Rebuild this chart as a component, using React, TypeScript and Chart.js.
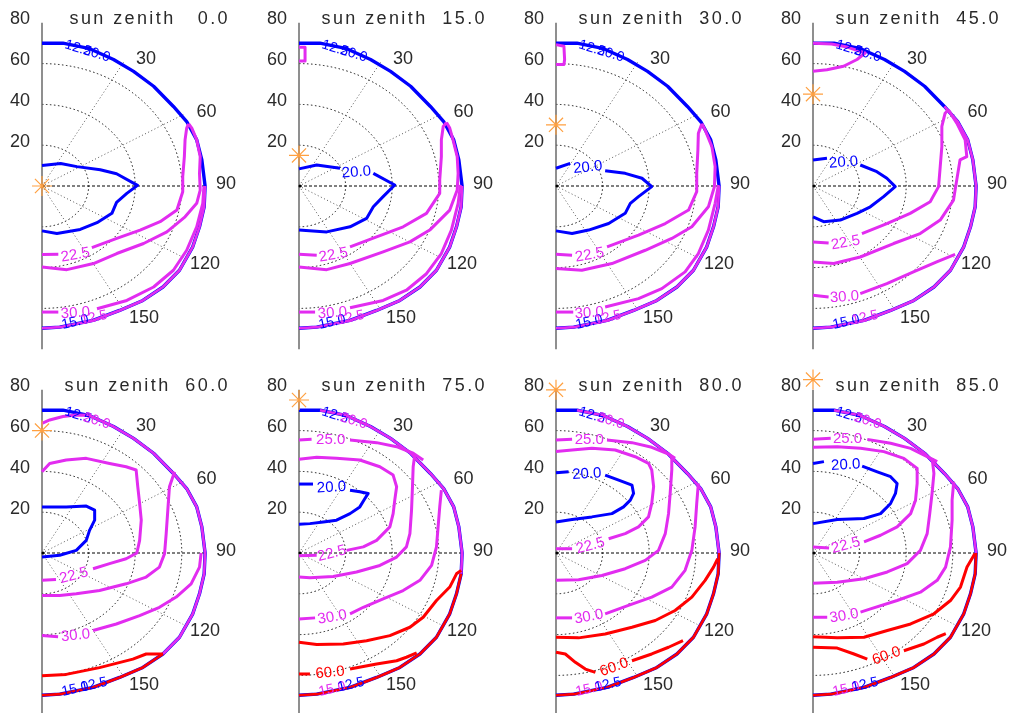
import React, { useEffect, useRef } from "react";
import { Chart, registerables } from "chart.js";

Chart.register(...registerables);

type Pt = number[] | null;

// ---------- axes / grid values ----------
const SUN_ZENITHS = [0, 15, 30, 45, 60, 75, 80, 85];
const Y_TICKS = [80, 60, 40, 20];
const AZ_TICKS = [30, 60, 90, 120, 150];
const GRID_RADII = [20, 40, 60];
const RADIAL_AZ = [30, 60, 120, 150];
const GRID_OUTER = 70;
const AZ_LABEL_RADIUS = 79;

// ---------- outer boundary (view zenith ~70), [x, y] in zenith units ----------
const EDGE: number[][] = [
  [0, 70], [9, 70], [20, 67.5], [30.7, 62], [39.3, 56.2], [47.9, 48.9], [56.4, 39],
  [62.1, 31.6], [66.4, 22.6], [68.6, 12.8], [70, 0], [69.6, -10.2], [67.6, -20],
  [64.7, -29.8], [59, -41.3], [51.9, -49.5], [43.3, -56.1], [33.3, -61], [21.9, -65.9],
  [7.6, -69.2], [0, -69.7],
];

// ---------- sun zenith 0 ----------
const SZ0_20: Pt[] = [[0, 10], [8, 11], [15, 9.5], [25, 8], [32, 6], [41, 0.3], [36.4, -3.6], [32, -8], [30, -13.4], [23.6, -18], [16.4, -21.3], [6.4, -23.3], [0, -22]];
const SZ0_225: Pt[] = [[0, -33.6], [7, -33.5], null, [21.4, -30.2], [32.1, -25.7], [42.1, -21.6], [50.7, -17.5], [57.9, -11.8], [60.4, -2.8], [60.4, 4.6], [61.1, 14.4], [61.4, 22.6], [62.1, 28.4], [62.9, 30.5]];
const SZ0_25: Pt[] = [[0, -39.7], [10.7, -41], [22.1, -38], [32.1, -33.1], [43.6, -28.2], [53.6, -22.5], [61.4, -15.1], [66.4, -8.5], [67.9, -2], [67.6, 6.2], [67.9, 14.4], [66.4, 22.6], [64.3, 28.4], [62.9, 30.5]];
const SZ0_30: Pt[] = [[0, -61.8], [7, -61.8], null, [23.6, -60.2], [36.4, -56.1], [47.9, -49.5], [56.4, -41.3], [62.1, -31.5], [66.4, -20], [69, -8.5], [69.5, 0]];

// ---------- sun zenith 15 ----------
const SZ15_TOP: Pt[] = [[0, 68], [2.6, 68], [2.6, 61.3], [0, 61.3]];
const SZ15_20: Pt[] = [[0, 8.4], [7.6, 10.3], [17.6, 8.7], null, [31.9, 6.2], [41.1, 0.5], [36.1, -5.2], [31.9, -10.2], [29, -15.9], [21.9, -20], [11.9, -22.5], [0, -21.6]];
const SZ15_225: Pt[] = [[0, -33.4], [7.6, -33.9], null, [21.9, -29.8], [33.3, -24.9], [44.7, -20], [54.7, -13.4], [60.4, -3.6], [60.4, 3], [61.1, 14.4], [61.1, 22.6], [61.9, 29.2], [63.3, 31.1]];
const SZ15_25: Pt[] = [[0, -39.7], [11.9, -41], [21.9, -38], [36.1, -32.3], [47.6, -27.4], [56.1, -21.6], [64.7, -11.8], [67.9, -2], [68.3, 6.2], [67.9, 14.4], [66.1, 22.6], [64.7, 28.4], [63.3, 31.1]];
const SZ15_30: Pt[] = [[0, -61.8], [6.9, -61.8], null, [21.9, -59.7], [36.1, -56.1], [46.1, -51.1], [54.7, -43], [61.1, -33.1], [65.4, -21.6], [68.3, -8.5], [69.3, 0.5]];

// ---------- sun zenith 30 ----------
const SZ30_TOP: Pt[] = [[0, 69.3], [3.4, 68.5], [3.7, 62], [3.4, 59.5], [0, 59.5]];
const SZ30_20: Pt[] = [[0, 8.7], [6.1, 11.1], null, [21.1, 7.5], [29.7, 6.2], [36.9, 3.8], [41.1, -0.3], [35.4, -5.2], [31.9, -8.5], [29.7, -13.4], [22.6, -18.4], [14, -21.6], [6.9, -23.3], [0, -22]];
const SZ30_225: Pt[] = [[0, -33.4], [6.9, -33.9], null, [21.9, -29.8], [35.4, -24.1], [46.9, -18.4], [56.9, -11.8], [60.4, -2.8], [60.4, 6.2], [60.9, 17.7], [61.1, 25.9], [62.6, 30.5]];
const SZ30_25: Pt[] = [[0, -40.5], [11.1, -41.3], [24, -38], [38.3, -31.5], [49.7, -25.7], [58.3, -20], [65.4, -10.2], [68, -0.3], [68.3, 9.5], [66.9, 19.3], [64, 27.5], [62.6, 30.5]];
const SZ30_30: Pt[] = [[0, -61.8], [7.4, -61.8], null, [21.1, -59.3], [35.4, -55.2], [45.4, -50.3], [55.4, -42.1], [61.1, -33.1], [65.4, -21.6], [68.3, -8.5], [69.7, 0.5]];

// ---------- sun zenith 45 ----------
const SZ45_TOP: Pt[] = [[0, 70], [8, 69.6], [14, 68.3], [22.4, 65.2], [18.9, 62], [13.1, 58.7], [6, 57], [0, 56.2]];
const SZ45_20: Pt[] = [[0, 12.8], [6, 13.6], null, [20.3, 10.3], [27.4, 7], [31.7, 3.8], [35.3, -0.3], [30.3, -5.2], [24.6, -10.2], [18.9, -13.4], [11.7, -16.7], [4.6, -17.5], [0, -15.1]];
const SZ45_225: Pt[] = [[0, -27.4], [6.7, -27.9], null, [21, -23.3], [31.7, -18.4], [41.7, -13.4], [50.3, -7.7], [53.9, -0.3], [54.6, 9.5], [55.3, 19.3], [55.3, 29.2], [56.7, 35.7], [58.1, 37.4]];
const SZ45_25: Pt[] = [[0, -37.2], [8.9, -38], [20.3, -34.8], [34.6, -28.2], [46, -23.3], [54.6, -16.7], [60.3, -6.9], [61.7, 3], [63.1, 12.8], [66, 14.4], [65.3, 22.6], [61.7, 30.8], [58.1, 37.4]];
const SZ45_30: Pt[] = [[0, -53.6], [6.7, -54.4], null, [20.3, -52.8], [31.7, -47.9], [43.1, -42.1], [53.1, -37.2], [61, -33.5]];

// ---------- sun zenith 60 ----------
const SZ60_TOP: Pt[] = [[0, 63.6], [3.3, 65.2], [9, 66.9], [14.7, 67.7], [20, 67.5]];
const SZ60_20: Pt[] = [[0, 22.6], [10.4, 22.6], [19, 23], [22.6, 21], [22.6, 16.1], [20.4, 11.1], [19, 6.2], [14.7, 1.3], [7.6, -1.1], [0, -2]];
const SZ60_225: Pt[] = [[0, 39.8], [3.3, 43.9], [10.4, 45.6], [19, 46.4], [29, 43.9], [36.1, 42.3], [40.4, 40.7], [41.1, 32.5], [41.9, 24.3], [42.6, 16.1], [41.9, 6.2], [40.7, 0], [36.1, -2.8], [29, -5.2], [21.9, -7.7], null, [6, -13], [0, -13.4]];
const SZ60_25: Pt[] = [[56.9, 39.8], [54.7, 32.5], [54, 21], [53.3, 9.5], [52.6, -0.3], [50.4, -6.9], [44.7, -11.8], [36.1, -15.1], [24.7, -18.4], [14.7, -20], [7.6, -20.8], [0, -20.8]];
const SZ60_30: Pt[] = [[0, -40.5], [6.9, -41], null, [21.9, -38], [31.9, -34.8], [41.9, -30.7], [50.4, -26.6], [57.6, -21.6], [64, -15.1], [67.6, -6.9], [68.3, 0]];
const SZ60_60: Pt[] = [[0, -60.2], [10.4, -59.5], [24.7, -56.2], [39, -52], [44.7, -49.5], [51.9, -49.5]];

// ---------- sun zenith 75 ----------
const SZ75_20: Pt[] = [[0, 33.8], [6, 33.8], null, [21.9, 30.8], [26.1, 30], [29.7, 29.2], [28.3, 26.7], [26.1, 22.6], [21.9, 19.3], [16.1, 16.1], [10.4, 15.2], [4.7, 14.4], [0, 14.1]];
const SZ75_225: Pt[] = [[0, 45.9], [7.6, 46.9], [16.1, 46.4], [26.1, 45.6], [34.7, 42.3], [40.4, 38.2], [41.9, 32.5], [41.1, 25.9], [40.4, 19.3], [39, 12.8], [33.3, 6.2], [27.6, 3], [20.4, 1.3], null, [7.6, -1.1], [0, -1.3]];
const SZ75_25: Pt[] = [[0, 55.4], [5.4, 55.7], null, [21.9, 55.4], [33.3, 54.1], [41.9, 52.1], [49, 48.9], [53.3, 45.6]];
const SZ75_25B: Pt[] = [[49.7, 48], [49, 42.3], [48.7, 32.5], [48.3, 21], [47.6, 9.5], [46.1, 3], [41.9, -2], [34.7, -6.1], [24.7, -9.3], [14.7, -11.5], [4.7, -12.1], [0, -11.8]];
const SZ75_30: Pt[] = [[61.1, 30.8], [60.4, 22.6], [59.7, 12.8], [59, 3], [56.9, -6.1], [51.9, -13.4], [44.7, -18.4], [36.1, -22.5], [27.6, -26.6], [21.9, -29.8], null, [6.9, -31.8], [0, -32.3]];
const SZ75_60A: Pt[] = [[0, -43.8], [7.6, -44.9], [19, -44.6], [29, -43], [39, -40.5], [47.6, -36.4], [53.3, -31.5], [59, -23.3], [64.7, -16.7], [67.6, -10.2], [69.6, -8.5]];
const SZ75_60B: Pt[] = [[0, -59.3], [4.7, -59.3], null, [21.9, -56.9], [33.3, -54.4], [41.9, -52.8], [46.1, -51.1], [50.5, -49]];

// ---------- sun zenith 80 ----------
const SZ80_20: Pt[] = [[0, 39.3], [5.4, 39.8], null, [21.1, 38.2], [26.9, 35.7], [32.6, 33.3], [33.3, 29.2], [31.9, 25.9], [29, 22.6], [24, 19.3], [15.4, 17.7], [6.9, 16.4], [0, 15.2]];
const SZ80_225: Pt[] = [[0, 49.7], [6.9, 50.5], [15.4, 51.3], [25.4, 50.5], [34, 47.2], [39.7, 43.9], [41.1, 40.7], [41.9, 32.5], [41.1, 24.3], [39.7, 17.7], [35.4, 12.8], [29.7, 9.5], [22.6, 7], null, [6.9, 2.1], [0, 2.1]];
const SZ80_25: Pt[] = [[0, 55.4], [6.9, 55.7], null, [21.9, 55.4], [32.6, 54.1], [41.1, 51.8], [48.3, 48.5], [51.1, 46.4]];
const SZ80_25B: Pt[] = [[49.7, 47], [49.7, 40.7], [49, 29.2], [48.3, 19.3], [46.9, 9.5], [44, 1.3], [38.3, -3.6], [29.7, -7.7], [19.7, -11], [9.7, -13.1], [0, -13.4]];
const SZ80_30: Pt[] = [[61.1, 34.1], [60.4, 24.3], [59.7, 12.8], [58.3, 1.3], [55.4, -8.5], [49.7, -16.7], [41.1, -21.6], [31.1, -25.7], [21.1, -29.8], null, [6.9, -31.8], [0, -31.8]];
const SZ80_60A: Pt[] = [[0, -41.3], [9.7, -41.6], [21.1, -39.7], [32.6, -36.4], [42.6, -33.1], [51.1, -28.2], [58.3, -21.6], [64, -13.4], [67.6, -6.9], [69.4, -2.8]];
const SZ80_60B: Pt[] = [[0, -48.7], [4, -49.5], [8.3, -53.6], [12.6, -56.9], [16.9, -58.5], null, [32.6, -52.8], [41.1, -49.5], [48.3, -46.2], [54.5, -43]];

// ---------- sun zenith 85 ----------
const SZ85_20: Pt[] = [[0, 43.9], [4.7, 44.8], null, [21.1, 42.6], [27.6, 39.8], [33.3, 37.4], [36.1, 34.1], [35.4, 29.2], [33.3, 24.3], [29, 19.3], [21.9, 16.9], [10.4, 16.4], [0, 14.4]];
const SZ85_225: Pt[] = [[0, 51.8], [10.4, 52.1], [20.4, 51.3], [30.4, 49.7], [39, 46.4], [44.7, 41.5], [44.7, 34.1], [44, 25.9], [41.9, 19.3], [36.1, 12.8], [29, 8.7], [21.9, 5.4], null, [6.9, 2.5], [0, 3]];
const SZ85_25: Pt[] = [[0, 55.7], [7.6, 56.2], null, [23.3, 55.7], [33.3, 53.8], [41.9, 51.3], [49, 47.2], [53.3, 44.8]];
const SZ85_25B: Pt[] = [[51.1, 46.5], [51.9, 39], [51.1, 29.2], [50.1, 19.3], [49, 9.5], [46.1, 1.3], [40.4, -5.2], [31.9, -9.3], [21.9, -12.6], [10.4, -14.3], [0, -14.8]];
const SZ85_30: Pt[] = [[60.4, 34.9], [59.7, 25.9], [59.7, 16.1], [59, 3], [56.9, -6.9], [53.3, -13.4], [46.1, -19.2], [36.1, -23.3], [24.7, -27.4], [20.4, -29], null, [6.1, -31.5], [0, -31.5]];
const SZ85_60A: Pt[] = [[0, -41], [10.4, -41.6], [21.9, -41.3], [31.9, -38], [41.9, -34.8], [51.9, -29.8], [59, -23.3], [63.3, -16.7], [66.1, -6.9], [69.5, -0.3]];
const SZ85_60B: Pt[] = [[0, -46.2], [10.4, -46.6], [17.6, -49.5], [23.3, -52], null, [39, -47.9], [47.6, -44.6], [53.3, -41.3], [57, -39.5]];

// ---------- styles ----------
const BLUE = "#0000ff";
const MAG = "#e22cf0";
const RED = "#ff0000";
const SUN_COLOR = "#ffa040";
const FONT = '"Liberation Sans", Arial, Helvetica, sans-serif';
const AZ_LABEL_OFFSETS: Record<number, number[]> = { 30: [12, 11.5], 60: [5, 4.6], 90: [0, -4], 120: [3.5, -4], 150: [10, -9.5] };

type Label = [string, number, number, number, string];
interface Panel {
  contours: [Pt[], string][];
  edge: [number, number, string][];
  labels: Label[];
  top: string[];
  bottom: string[];
}

const PANELS: Panel[] = [
  {
    contours: [[SZ0_20, BLUE], [SZ0_225, MAG], [SZ0_25, MAG], [SZ0_30, MAG]],
    edge: [[10, 20, MAG]],
    labels: [["22.5", 14.3, -33.4, -10, MAG], ["30.0", 14.3, -61.8, -4, MAG]],
    top: [BLUE, BLUE], bottom: [BLUE, MAG],
  },
  {
    contours: [[SZ15_TOP, MAG], [SZ15_20, BLUE], [SZ15_225, MAG], [SZ15_25, MAG], [SZ15_30, MAG]],
    edge: [[10, 20, MAG]],
    labels: [["20.0", 24.6, 7.2, -4, BLUE], ["22.5", 14.7, -33.4, -10, MAG], ["30.0", 14.3, -61.8, -4, MAG]],
    top: [BLUE, BLUE], bottom: [BLUE, MAG],
  },
  {
    contours: [[SZ30_TOP, MAG], [SZ30_20, BLUE], [SZ30_225, MAG], [SZ30_25, MAG], [SZ30_30, MAG]],
    edge: [[10, 20, MAG]],
    labels: [["20.0", 13.6, 9.6, -6, BLUE], ["22.5", 14.4, -33.4, -10, MAG], ["30.0", 14.2, -61.8, -4, MAG]],
    top: [BLUE, BLUE], bottom: [BLUE, MAG],
  },
  {
    contours: [[SZ45_TOP, MAG], [SZ45_20, BLUE], [SZ45_225, MAG], [SZ45_25, MAG], [SZ45_30, MAG]],
    edge: [[6, 20, MAG]],
    labels: [["20.0", 13.1, 12, -4, BLUE], ["22.5", 13.9, -27.4, -10, MAG], ["30.0", 13.5, -54, -4, MAG]],
    top: [BLUE, BLUE], bottom: [BLUE, MAG],
  },
  {
    contours: [[SZ60_TOP, MAG], [SZ60_20, BLUE], [SZ60_225, MAG], [SZ60_25, MAG], [SZ60_30, MAG], [SZ60_60, RED]],
    edge: [[2, 15, MAG], [15, 20, RED]],
    labels: [["22.5", 13.6, -10.6, -15, MAG], ["30.0", 14.4, -40, -6, MAG]],
    top: [BLUE, MAG], bottom: [BLUE, BLUE],
  },
  {
    contours: [[SZ75_20, BLUE], [SZ75_225, MAG], [SZ75_25, MAG], [SZ75_25B, MAG], [SZ75_30, MAG], [SZ75_60A, RED], [SZ75_60B, RED]],
    edge: [[1, 11, MAG], [11, 20, RED]],
    labels: [["20.0", 13.9, 32.6, -3, BLUE], ["25.0", 13.6, 56, 0, MAG], ["22.5", 14, 0.2, -15, MAG], ["30.0", 14.2, -31, -10, MAG], ["60.0", 13.3, -58.2, -6, RED]],
    top: [BLUE, MAG], bottom: [MAG, BLUE],
  },
  {
    contours: [[SZ80_20, BLUE], [SZ80_225, MAG], [SZ80_25, MAG], [SZ80_25B, MAG], [SZ80_30, MAG], [SZ80_60A, RED], [SZ80_60B, RED]],
    edge: [[1, 10, MAG], [10, 20, RED]],
    labels: [["20.0", 13.2, 39.2, -3, BLUE], ["25.0", 14.3, 55.8, 0, MAG], ["22.5", 14.7, 4, -15, MAG], ["30.0", 14, -30.8, -10, MAG], ["60.0", 24.8, -55.6, -20, RED]],
    top: [BLUE, MAG], bottom: [MAG, BLUE],
  },
  {
    contours: [[SZ85_20, BLUE], [SZ85_225, MAG], [SZ85_25, MAG], [SZ85_25B, MAG], [SZ85_30, MAG], [SZ85_60A, RED], [SZ85_60B, RED]],
    edge: [[1, 10, MAG], [10, 20, RED]],
    labels: [["20.0", 14, 43.6, -3, BLUE], ["25.0", 14.8, 56.2, 0, MAG], ["22.5", 14, 4.2, -15, MAG], ["30.0", 13.3, -30.4, -10, MAG], ["60.0", 31.4, -50, -20, RED]],
    top: [BLUE, MAG], bottom: [MAG, BLUE],
  },
];

const EDGE_TOP_TEXTS = ["12.5", "20.0"];
const EDGE_BOTTOM_TEXTS = ["15.0", "12.5"];

// ---------- helpers ----------
function segments(pts: Pt[]) {
  const out: { x: number; y: number }[][] = [];
  let cur: { x: number; y: number }[] = [];
  for (const p of pts) {
    if (!p) {
      if (cur.length) out.push(cur);
      cur = [];
    } else cur.push({ x: p[0], y: p[1] });
  }
  if (cur.length) out.push(cur);
  return out;
}

function lineDs(data: { x: number; y: number }[], color: string, width: number) {
  return {
    type: "line" as const,
    data,
    borderColor: color,
    backgroundColor: color,
    borderWidth: width,
    borderJoinStyle: "round" as const,
    pointRadius: 0,
    pointHoverRadius: 0,
    tension: 0,
    fill: false,
    showLine: true,
    clip: false as any,
  };
}

function makeDecor(panel: Panel, sz: number) {
  return {
    id: "polarDecor",
    beforeDatasetsDraw(chart: any) {
      const ctx: CanvasRenderingContext2D = chart.ctx;
      const xs = chart.scales.x;
      const ys = chart.scales.y;
      const px = (v: number) => xs.getPixelForValue(v);
      const py = (v: number) => ys.getPixelForValue(v);
      const cx = px(0);
      const cy = py(0);
      const kx = px(1) - cx;
      const ky = cy - py(1);
      ctx.save();
      // grid circles
      ctx.strokeStyle = "#111";
      ctx.lineWidth = 1;
      ctx.setLineDash([1.5, 2.5]);
      GRID_RADII.forEach((r) => {
        ctx.beginPath();
        ctx.ellipse(cx, cy, r * kx, r * ky, 0, -Math.PI / 2, Math.PI / 2);
        ctx.stroke();
      });
      // radial lines
      ctx.strokeStyle = "#555";
      ctx.setLineDash([1, 2.5]);
      RADIAL_AZ.forEach((a) => {
        const t = (a * Math.PI) / 180;
        ctx.beginPath();
        ctx.moveTo(cx, cy);
        ctx.lineTo(px(GRID_OUTER * Math.sin(t)), py(GRID_OUTER * Math.cos(t)));
        ctx.stroke();
      });
      // 90 deg line
      ctx.strokeStyle = "#000";
      ctx.setLineDash([3, 2]);
      ctx.beginPath();
      ctx.moveTo(cx, cy);
      ctx.lineTo(px(GRID_OUTER), cy);
      ctx.stroke();
      ctx.setLineDash([]);
      // vertical axis
      ctx.strokeStyle = "#6a6a6a";
      ctx.lineWidth = 1.5;
      ctx.beginPath();
      ctx.moveTo(cx, py(80));
      ctx.lineTo(cx, py(-80));
      ctx.stroke();
      ctx.fillStyle = "#000";
      ctx.beginPath();
      ctx.arc(cx + 1, cy, 1.5, 0, Math.PI * 2);
      ctx.fill();
      ctx.restore();
    },
    afterDatasetsDraw(chart: any) {
      const ctx: CanvasRenderingContext2D = chart.ctx;
      const xs = chart.scales.x;
      const ys = chart.scales.y;
      const px = (v: number) => xs.getPixelForValue(v);
      const py = (v: number) => ys.getPixelForValue(v);
      const cx = px(0);
      ctx.save();
      // y tick labels
      ctx.font = `18px ${FONT}`;
      ctx.fillStyle = "#2a2a2a";
      ctx.textAlign = "right";
      ctx.textBaseline = "alphabetic";
      Y_TICKS.forEach((v) => ctx.fillText(String(v), cx - 12, py(v) + 1.5));
      // azimuth labels
      ctx.textAlign = "center";
      AZ_TICKS.forEach((a) => {
        const t = (a * Math.PI) / 180;
        const off = AZ_LABEL_OFFSETS[a];
        const x = px(AZ_LABEL_RADIUS * Math.sin(t)) + off[0];
        const y = py(AZ_LABEL_RADIUS * Math.cos(t)) + off[1];
        ctx.fillText(String(a), x, y + 6.5);
      });
      // title
      const title = "sun zenith " + sz.toFixed(1).padStart(5, " ");
      (ctx as any).letterSpacing = "2.4px";
      ctx.textAlign = "right";
      ctx.fillText(title, cx + 188, py(80) + 1.5);
      (ctx as any).letterSpacing = "0px";
      // contour labels
      ctx.font = `15px ${FONT}`;
      ctx.textAlign = "center";
      ctx.textBaseline = "middle";
      panel.labels.forEach(([text, x, y, rot, color]) => {
        ctx.save();
        ctx.translate(px(x), py(y));
        ctx.rotate((rot * Math.PI) / 180);
        ctx.fillStyle = color;
        ctx.fillText(text, 0, 1);
        ctx.restore();
      });
      // overlapping edge labels
      ctx.font = `14px ${FONT}`;
      ctx.textAlign = "left";
      const edgeLabel = (texts: string[], colors: string[], x: number, y: number, rot: number) => {
        ctx.save();
        ctx.translate(px(x), py(y));
        ctx.rotate((rot * Math.PI) / 180);
        ctx.fillStyle = colors[0];
        ctx.fillText(texts[0], 0, 0);
        const off = ctx.measureText(texts[0].slice(0, 3)).width;
        ctx.fillStyle = colors[1];
        ctx.fillText(texts[1], off, 0);
        ctx.restore();
      };
      edgeLabel(EDGE_TOP_TEXTS, panel.top, 9.9, 69.4, 17);
      edgeLabel(EDGE_BOTTOM_TEXTS, panel.bottom, 8.5, -68.2, -13);
      ctx.restore();
    },
  };
}

function buildDatasets(panel: Panel, sz: number) {
  const order: any[] = [];
  // blue outer boundary
  order.push(lineDs(EDGE.map((p) => ({ x: p[0], y: p[1] })), BLUE, 3.4));
  panel.edge.forEach(([a, b, color]) => {
    order.push(lineDs(EDGE.slice(a, b + 1).map((p) => ({ x: p[0], y: p[1] })), color, 2.6));
  });
  panel.contours.forEach(([pts, color]) => {
    segments(pts).forEach((seg) => order.push(lineDs(seg, color, 3)));
  });
  order.push({
    type: "line" as const,
    data: [{ x: 0, y: sz }],
    showLine: false,
    pointStyle: "star",
    pointRadius: 10,
    pointHoverRadius: 10,
    borderColor: SUN_COLOR,
    backgroundColor: SUN_COLOR,
    borderWidth: 1.2,
    clip: false as any,
  });
  // Chart.js draws the first dataset on top, so reverse
  return order.reverse();
}

const CANVAS_W = 239;
const CANVAS_H = 366;

function PolarPanel({ index }: { index: number }) {
  const ref = useRef<HTMLCanvasElement>(null);
  useEffect(() => {
    const panel = PANELS[index];
    const sz = SUN_ZENITHS[index];
    const chart = new Chart(ref.current as HTMLCanvasElement, {
      type: "line",
      data: { datasets: buildDatasets(panel, sz) },
      options: {
        responsive: false,
        animation: false,
        events: [],
        layout: { padding: { left: 42, right: 10.6, top: 22.8, bottom: 16.8 }, autoPadding: false } as any,
        scales: {
          x: { type: "linear", min: 0, max: 80, display: false },
          y: { type: "linear", min: -80, max: 80, display: false },
        },
        plugins: { legend: { display: false }, tooltip: { enabled: false }, title: { display: false } },
      },
      plugins: [makeDecor(panel, sz)],
    } as any);
    return () => chart.destroy();
  }, [index]);
  const col = index % 4;
  const row = Math.floor(index / 4);
  return (
    <canvas
      ref={ref}
      width={CANVAS_W}
      height={CANVAS_H}
      style={{ position: "absolute", left: col * 257, top: row * 367, width: CANVAS_W, height: CANVAS_H }}
    />
  );
}

export default function App() {
  return (
    <div
      style={{
        position: "fixed",
        left: 0,
        top: 0,
        width: 1010,
        height: 713,
        overflow: "hidden",
        background: "#ffffff",
      }}
    >
      {PANELS.map((_, i) => (
        <PolarPanel key={i} index={i} />
      ))}
    </div>
  );
}
